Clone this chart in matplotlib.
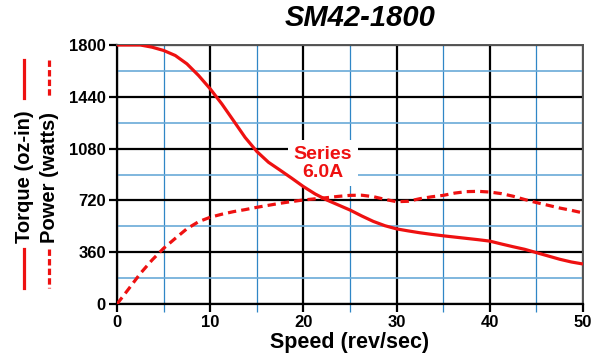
import matplotlib.pyplot as plt
from matplotlib.lines import Line2D

plt.rcParams['font.family'] = ['Liberation Sans', 'DejaVu Sans']
plt.rcParams['font.weight'] = 'bold'

# values
speed = [0, 1.25, 2.5, 3.75, 5, 6.25, 7.5, 8.75, 10, 11.25, 12.5, 13.75, 15,
         16.25, 17.5, 18.75, 20, 21.25, 22.5, 23.75, 25, 26.25, 27.5, 28.75,
         30, 31.25, 32.5, 33.75, 35, 36.25, 37.5, 38.75, 40, 41.25, 42.5,
         43.75, 45, 46.25, 47.5, 48.75, 50]
torque = [1800, 1800, 1800, 1785, 1762, 1727, 1669, 1588, 1495, 1390, 1274,
          1157, 1060, 985, 930, 874, 816, 765, 723, 688, 653, 612, 574, 544,
          522, 508, 495, 484, 474, 465, 456, 447, 437, 417, 398, 380, 357,
          334, 311, 292, 278]
power = [0, 105, 212, 305, 387, 456, 523, 572, 603, 624, 642, 656, 672, 686,
         700, 712, 723, 731, 739, 748, 755, 756, 746, 727, 711, 714, 732, 745,
         755, 771, 781, 783, 778, 767, 749, 726, 705, 686, 667, 651, 633]

x_ticks = [0, 10, 20, 30, 40, 50]
y_ticks = [0, 360, 720, 1080, 1440, 1800]
title = "SM42-1800"
series_label = "Series\n6.0A"

RED = '#ee1111'

fig = plt.figure(figsize=(6.07, 3.62), dpi=100)
ax = fig.add_axes([0.1928, 0.1602, 0.7677, 0.7155])

ax.plot(speed, torque, color=RED, lw=2.3, zorder=4, solid_capstyle='butt')
ax.plot(speed, power, color=RED, lw=2.3, zorder=4, linestyle=(0, (2.6, 1.6)))

ax.set_xlim(0, 50)
ax.set_ylim(0, 1800)
ax.set_xticks(x_ticks)
ax.set_yticks(y_ticks)
ax.set_xticks([5, 15, 25, 35, 45], minor=True)
ax.set_yticks([180, 540, 900, 1260, 1620], minor=True)

ax.set_axisbelow(True)
ax.grid(which='major', color='black', lw=1.6)
ax.grid(which='minor', axis='x', color='#2f86c6', lw=0.9)
ax.grid(which='minor', axis='y', color='#6aaad8', lw=1.2)

ax.tick_params(which='major', direction='out', length=6, width=1.6,
               labelsize=12, pad=2)
ax.tick_params(which='minor', axis='x', direction='out', length=6,
               width=0.9, color='#2f86c6')
ax.tick_params(which='minor', axis='y', length=0)

for s in ['left', 'bottom']:
    ax.spines[s].set_color('black')
    ax.spines[s].set_linewidth(1.6)
for s in ['top', 'right']:
    ax.spines[s].set_color('#555555')
    ax.spines[s].set_linewidth(1.4)

ax.set_xlabel("Speed (rev/sec)", fontsize=15.5, fontweight='bold', labelpad=1)

ax.text(22.1, 978, series_label, color=RED, fontsize=14, fontweight='bold',
        ha='center', va='center', linespacing=1.05, zorder=3,
        bbox=dict(facecolor='white', edgecolor='none', pad=4))

fig.text(360 / 607, 1 - 18 / 362, title, fontsize=21, fontweight='bold',
         style='italic', ha='center', va='center')

# y-axis label with line-style keys
W, H = 607, 362
fig.text(25 / W, 1 - 243 / H, "Torque (oz-in)", rotation=90, fontsize=14.5,
         fontweight='bold', ha='center', va='bottom')
fig.text(50 / W, 1 - 243 / H, "Power (watts)", rotation=90, fontsize=14.5,
         fontweight='bold', ha='center', va='bottom')
for y0, y1 in [(60, 98), (249, 288)]:
    fig.add_artist(Line2D([24 / W, 24 / W], [1 - y0 / H, 1 - y1 / H],
                          color=RED, lw=2.3))
    fig.add_artist(Line2D([49 / W, 49 / W], [1 - y0 / H, 1 - y1 / H],
                          color=RED, lw=2.3, linestyle=(0, (2, 1))))

fig.savefig('out.png', dpi=100)
